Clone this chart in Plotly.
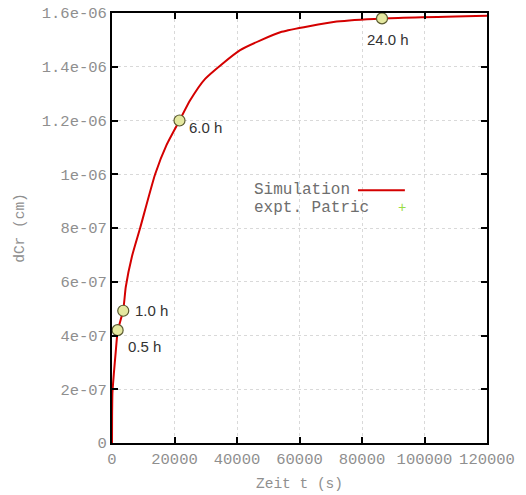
import plotly.graph_objects as go

# Simulation curve (time in s, dCr in cm)
sim_t = [0, 30, 150, 600, 1200, 1800, 3600, 4400, 6400, 9000, 13800, 17500,
         21600, 25000, 29800, 41000, 54300, 71900, 86400, 120000]
sim_v = [0, 1.0e-7, 1.9e-7, 2.6e-7, 3.4e-7, 4.15e-7, 4.95e-7, 5.8e-7, 6.95e-7,
         8.0e-7, 1.0e-6, 1.11e-6, 1.2e-6, 1.275e-6, 1.355e-6,
         1.462e-6, 1.530e-6, 1.568e-6, 1.580e-6, 1.590e-6]

# Marked times
mark_t = [1800, 3600, 21600, 86400]
mark_v = [4.2e-7, 4.92e-7, 1.2e-6, 1.58e-6]
mark_lbl = ["0.5 h", "1.0 h", "6.0 h", "24.0 h"]
lbl_dx = [8, 10, 7, -17]
lbl_dy = [16, 0, 7, 21]

xticks = [0, 20000, 40000, 60000, 80000, 100000, 120000]
yticks = [0, 2e-7, 4e-7, 6e-7, 8e-7, 1e-6, 1.2e-6, 1.4e-6, 1.6e-6]
yticklabels = ["0", "2e-07", "4e-07", "6e-07", "8e-07", "1e-06", "1.2e-06", "1.4e-06", "1.6e-06"]

mono = "Liberation Mono, Courier New, monospace"
grey = "#8f8f8f"

fig = go.Figure()
fig.add_trace(go.Scatter(x=sim_t, y=sim_v, mode="lines", line_shape="spline",
                         line=dict(color="#d40000", width=2, smoothing=0.5),
                         showlegend=False))
fig.add_trace(go.Scatter(x=mark_t, y=mark_v, mode="markers",
                         marker=dict(symbol="circle", size=11, color="#e4e8a0",
                                     line=dict(color="#5a5a30", width=1.2)),
                         showlegend=False))

for t, v, s, dx, dy in zip(mark_t, mark_v, mark_lbl, lbl_dx, lbl_dy):
    fig.add_annotation(x=t, y=v, text=s, showarrow=False, xanchor="left",
                       xshift=dx, yshift=-dy, yanchor="middle",
                       font=dict(family="Liberation Sans, Arial", size=15, color="#333333"))

# Legend (gnuplot style: text then sample)
fig.add_annotation(x=0.374, y=0.588, xref="paper", yref="paper", text="Simulation",
                   showarrow=False, xanchor="left", yanchor="middle",
                   font=dict(family=mono, size=16, color="#6e6e6e"))
fig.add_annotation(x=0.374, y=0.546, xref="paper", yref="paper", text="expt. Patric",
                   showarrow=False, xanchor="left", yanchor="middle",
                   font=dict(family=mono, size=16, color="#6e6e6e"))
fig.add_shape(type="line", xref="paper", yref="paper", x0=0.656, x1=0.781,
              y0=0.588, y1=0.588, line=dict(color="#d40000", width=2))
fig.add_annotation(x=0.772, y=0.546, xref="paper", yref="paper", text="+",
                   showarrow=False, xanchor="center", yanchor="middle",
                   font=dict(family=mono, size=14, color="#99dd44"))

axis_common = dict(showline=True, linecolor="black", linewidth=2, mirror="ticks",
                   ticks="inside", ticklen=6, tickwidth=2, tickcolor="black",
                   showgrid=True, gridcolor="#d9d9d9", griddash="dot", gridwidth=1,
                   zeroline=False, automargin=False,
                   tickfont=dict(family=mono, size=15.5, color=grey),
                   title_font=dict(family=mono, size=14.5, color=grey))

fig.update_xaxes(range=[0, 120000], tickvals=xticks,
                 ticktext=[str(v) for v in xticks],
                 title_text="Zeit t (s)", title_standoff=10, **axis_common)
fig.update_yaxes(range=[0, 1.6e-6], tickvals=yticks, ticktext=yticklabels,
                 title_text="dCr (cm)", title_standoff=14, **axis_common)

fig.update_layout(width=526, height=495, margin=dict(l=112, r=39, t=13, b=52, autoexpand=False),
                  plot_bgcolor="white", paper_bgcolor="white", showlegend=False)

fig.write_html("out.html")
